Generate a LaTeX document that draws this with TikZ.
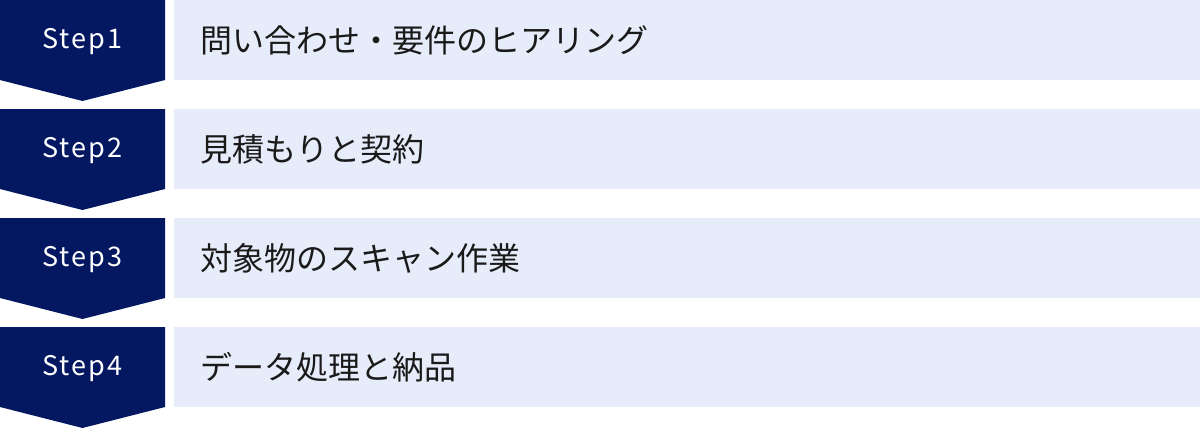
\documentclass[tikz,border=0pt]{standalone}
\usepackage{fontspec}
\setmainfont{Noto Sans CJK JP}
\definecolor{navy}{HTML}{041862}
\definecolor{pale}{HTML}{E6ECF9}
\definecolor{ink}{HTML}{1A1A1A}
\begin{document}
\begin{tikzpicture}[x=1pt,y=-1pt,
  stepshape/.style={fill=navy,draw=none},
  barshape/.style={fill=pale,draw=none},
  steplabel/.style={text=white,font=\fontsize{27}{32}\selectfont,anchor=center,inner sep=0pt},
  barlabel/.style={text=ink,font=\fontsize{32}{38}\selectfont,anchor=west,inner sep=0pt}]
\useasboundingbox (0,0) rectangle (1200,429);
\foreach \i/\lab/\txt in {0/Step1/問い合わせ・要件のヒアリング,1/Step2/見積もりと契約,2/Step3/対象物のスキャン作業,3/Step4/データ処理と納品}{
  \pgfmathsetmacro{\t}{\i*109}
  \fill[stepshape] (0,\t) -- (165,\t) -- (165,\t+80) -- (82.5,\t+101) -- (0,\t+80) -- cycle;
  \fill[barshape] (174,\t) rectangle (1200,\t+80);
  \node[steplabel] (s\i) at (82.5,\t+42) {\addfontfeatures{LetterSpace=8}\lab};
  \node[barlabel] (b\i) at (200,\t+40) {\txt};
}
\end{tikzpicture}
\end{document}
